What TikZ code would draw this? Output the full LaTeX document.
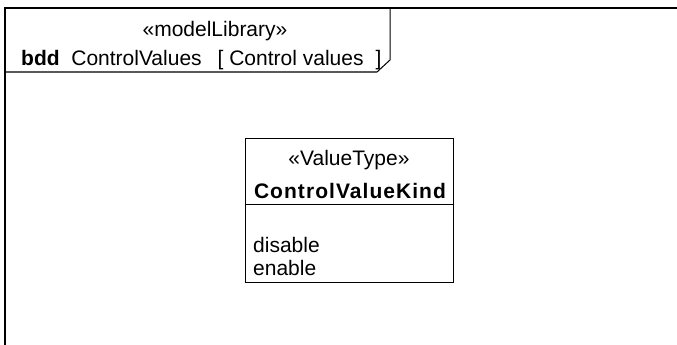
\documentclass[tikz,border=0pt]{standalone}
\usepackage{fontspec}
\setmainfont{Liberation Sans}
\usetikzlibrary{positioning}
\tikzset{lbl/.style={font=\fontsize{21}{23}\selectfont,inner sep=0pt,anchor=base}}
\begin{document}
\begin{tikzpicture}[x=1pt,y=-1pt]
\useasboundingbox (0,0) rectangle (677,345);
\begin{scope}
\clip (0,0) rectangle (677,345);
\draw[line width=2pt] (5,8) rectangle (700,360);
\end{scope}
% frame header
\draw[line width=1pt] (5,72)--(377,72)--(390,60)--(390,8);
\node[lbl](stereo) at (215,37){«modelLibrary»};
\node[lbl,anchor=base west](title) at (21,66){\textbf{bdd}\ \ ControlValues\hspace{16pt}[\ Control values\hspace{12pt}]};
% value type block
\node[draw,line width=1pt,minimum width=208pt,minimum height=144pt,inner sep=0pt](cvk) at (349,210){};
\draw[line width=1pt] (cvk.west |- 0,204)--(cvk.east |- 0,204);
\node[lbl](vt) at (349,165){«ValueType»};
\node[lbl,font=\fontsize{21}{23}\selectfont\bfseries\addfontfeature{LetterSpace=5}](cvkname) at (350,198){ControlValueKind};
\node[lbl,anchor=base west](dis) at (253,252){disable};
\node[lbl,anchor=base west](en) at (253,275){enable};
\end{tikzpicture}
\end{document}
